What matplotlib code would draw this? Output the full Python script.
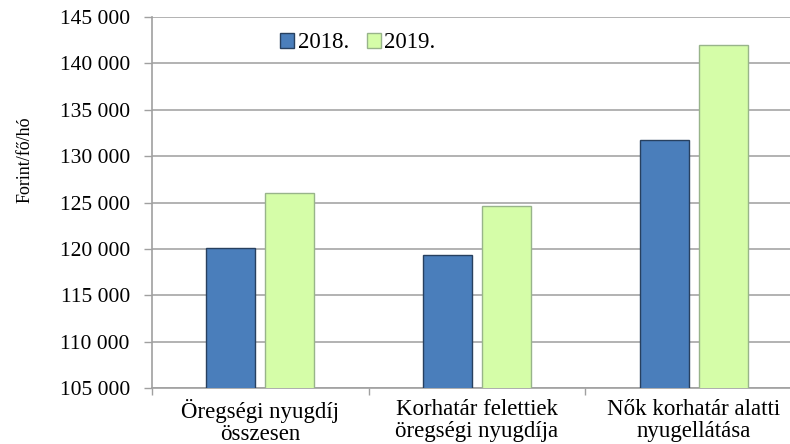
import matplotlib.pyplot as plt
import numpy as np

categories = ["Öregségi nyugdíj\nösszesen",
              "Korhatár felettiek\töregségi nyugdíja".replace("\t", "\n"),
              "Nők korhatár alatti\nnyugellátása"]
series_2018 = [120100, 119300, 131750]
series_2019 = [126000, 124600, 141950]
years = ["2018.", "2019."]
yticks = [105000, 110000, 115000, 120000, 125000, 130000, 135000, 140000, 145000]

plt.rcParams['font.family'] = ['Liberation Serif', 'DejaVu Serif']

fig = plt.figure(figsize=(7.9, 4.44), dpi=100)
ax = fig.add_axes([152 / 790, 1 - 388 / 444, 650 / 790, 371 / 444])

ind = np.arange(len(categories))
width = 0.226
gap = 0.046
ax.bar(ind - (width + gap) / 2, series_2018, width, color='#4a7ebb',
       edgecolor='#27405f', linewidth=1.0, label=years[0], zorder=3)
ax.bar(ind + (width + gap) / 2, series_2019, width, color='#d5fda8',
       edgecolor='#98b48a', linewidth=1.0, label=years[1], zorder=3)

ax.set_xlim(-0.5, 2.5)
ax.set_ylim(105000, 145000)
ax.set_yticks(yticks)
ax.set_yticklabels([f"{v:,}".replace(",", " ") for v in yticks], fontsize=15.5)
ax.yaxis.grid(True, color='#a6a6a6', linewidth=1.2, zorder=0)
ax.tick_params(axis='y', length=6, width=1.0, color='#a0a0a0', pad=10)

# category boundaries as major ticks, labels on minor ticks
ax.set_xticks([-0.5, 0.5, 1.5, 2.5])
ax.set_xticklabels([])
ax.set_xticks(ind, minor=True)
ax.set_xticklabels(categories, minor=True, fontsize=16.5, linespacing=1.07)
ax.tick_params(axis='x', which='major', length=5, width=1.0, color='#a0a0a0')
ax.tick_params(axis='x', which='minor', length=0, pad=8)

for s in ['top', 'right']:
    ax.spines[s].set_visible(False)
for s in ['left', 'bottom']:
    ax.spines[s].set_color('#a0a0a0')
    ax.spines[s].set_linewidth(1.2)

ax.legend(loc='center', bbox_to_anchor=(0.317, 0.93), ncol=2, frameon=False,
          fontsize=16.5, handlelength=0.6, handleheight=0.6,
          handletextpad=0.15, columnspacing=0.8)

fig.text(25 / 790, 1 - 160 / 444, "Forint/fő/hó", rotation=90, fontsize=13,
         ha='center', va='center')

fig.savefig("out.png", dpi=100)
